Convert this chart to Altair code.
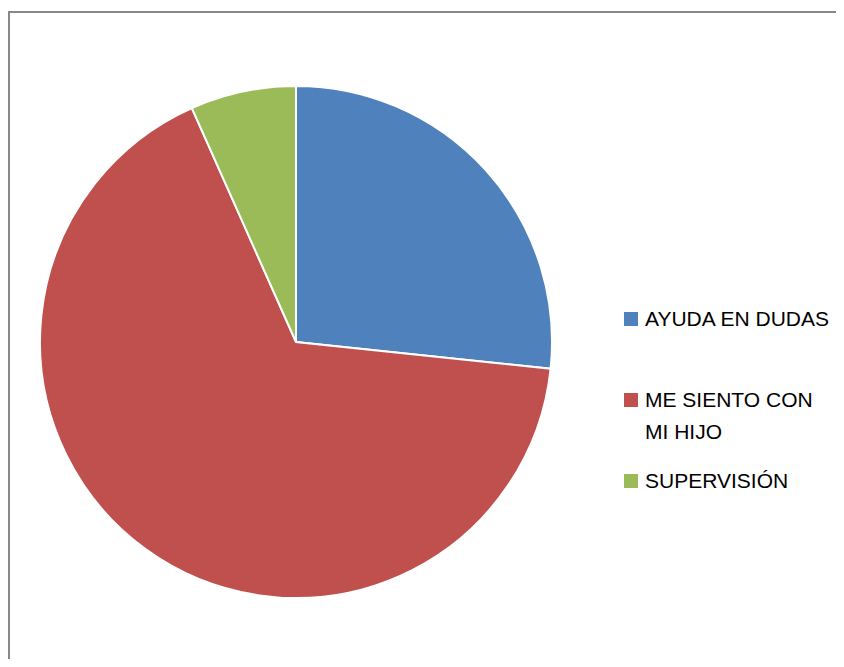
import altair as alt
import pandas as pd

categories = ["AYUDA EN DUDAS", "ME SIENTO CON MI HIJO", "SUPERVISIÓN"]
values = [4, 10, 1]
legend_lines = [["AYUDA EN DUDAS"], ["ME SIENTO CON", "MI HIJO"], ["SUPERVISIÓN"]]
colors = ["#4F81BD", "#C0504D", "#9BBB59"]

W, H = 827, 647

df = pd.DataFrame({"category": categories, "value": values, "idx": list(range(len(categories)))})
leg = pd.DataFrame({"category": categories, "row": list(range(len(categories))), "lines": legend_lines})
one = pd.DataFrame({"k": [0]})

color = alt.Color("category:N", scale=alt.Scale(domain=categories, range=colors), legend=None)

pie = alt.Chart(df).mark_arc(radius=256, stroke="white", strokeWidth=2).encode(
    theta=alt.Theta("value:Q", stack=True),
    order=alt.Order("idx:Q"),
    color=color,
    x=alt.value(287),
    y=alt.value(330),
)

yleg = alt.Y("row:Q", scale=alt.Scale(domain=[0, 2], range=[307, 469], zero=False, nice=False), axis=None)

squares = alt.Chart(leg).mark_square(size=196, opacity=1).encode(
    x=alt.value(622),
    y=yleg,
    color=color,
)

texts = alt.Chart(leg).mark_text(
    align="left", baseline="alphabetic", dy=7, fontSize=21, font="Liberation Sans",
    color="black", lineHeight=32,
).encode(
    x=alt.value(636),
    y=yleg,
    text="lines",
)

left_rule = alt.Chart(one).mark_rule(color="#888888", strokeWidth=2).encode(
    x=alt.value(0), y=alt.value(0), y2=alt.value(H + 10)
)
top_rule = alt.Chart(one).mark_rule(color="#888888", strokeWidth=2).encode(
    x=alt.value(-1), x2=alt.value(W + 10), y=alt.value(0)
)

chart = alt.layer(pie, squares, texts, left_rule, top_rule).properties(
    width=W, height=H,
    autosize=alt.AutoSizeParams(type="none"),
    padding={"left": 1, "top": 4, "right": 0, "bottom": 0},
).configure_view(stroke=None)

chart.save("out.html", embed_options={"renderer": "svg", "actions": False})
